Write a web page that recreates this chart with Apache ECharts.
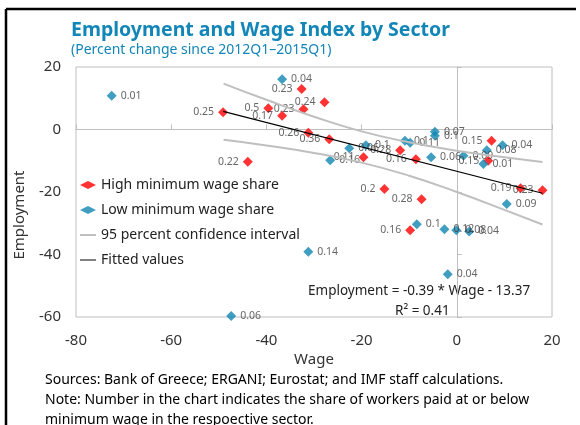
<!DOCTYPE html>
<html>
<head>
<meta charset="utf-8">
<script src="https://cdn.jsdelivr.net/npm/echarts@6/dist/echarts.min.js"></script>
<style>
    html, body { margin: 0; padding: 0; background: #fff; }
    #chart { width: 580px; height: 425px; }
</style>
</head>
<body>
<div id="chart"></div>
<script>
// [wage, employment, share of workers at/below minimum wage]
var highShare = [
    [-49.1, 5.5, '0.25'], [-43.9, -10.3, '0.22'], [-39.6, 6.8, '0.5'], [-36.7, 4.4, '0.17'],
    [-32.6, 13.0, '0.23'], [-32.2, 6.5, '0.23'], [-27.8, 8.7, '0.24'], [-31.2, -1.0, '0.26'],
    [-26.8, -3.1, '0.36'], [-19.6, -8.9, '0.11'], [-11.9, -6.6, '0.28'], [-8.6, -9.5, '0.16'],
    [-15.2, -19.0, '0.2'], [-7.4, -22.3, '0.28'], [-9.8, -32.2, '0.16'], [7.3, -3.6, '0.15'],
    [6.6, -10.0, '0.15'], [13.4, -18.8, '0.19'], [18.0, -19.4, '0.23']
];
var lowShare = [
    [-72.5, 10.8, '0.01'], [-36.7, 16.1, '0.04'], [-22.6, -6.0, '0.06'], [-19.1, -5.0, '0.1'],
    [-26.6, -9.8, '0.16'], [-10.9, -3.6, '0.1'], [-9.8, -4.2, '0.11'], [-4.6, -0.7, '0.07'],
    [-4.6, -2.0, '0.1'], [-5.4, -8.9, '0.06'], [1.4, -8.4, '0.09'], [6.3, -6.6, '0.08'],
    [9.6, -5.0, '0.04'], [5.6, -11.0, '0.01'], [10.5, -23.8, '0.09'], [-8.4, -30.3, '0.1'],
    [-2.6, -31.9, '0.12'], [-0.1, -32.2, '0.08'], [2.6, -32.6, '0.04'], [-31.2, -39.1, '0.14'],
    [-1.9, -46.3, '0.04'], [-47.4, -59.7, '0.06']
];
var ciUpper = [[-49, 14.7], [-40, 9.5], [-30, 4.1], [-20, -0.6], [-10, -4.1], [0, -6.8], [10, -8.9], [18, -10.4]];
var ciLower = [[-49, -3.3], [-40, -5.1], [-30, -7.5], [-20, -10.6], [-10, -14.8], [0, -20.0], [10, -25.7], [18, -30.4]];
var fitted = [[-49.1, 5.8], [18, -20.4]];

var xTicks = { min: -80, max: 20, interval: 20 };
var yTicks = { min: -60, max: 20, interval: 20 };

var FONT = '"Noto Sans", sans-serif';
var RED = '#ff0000';
var BLUE = '#1086b2';
var GREY = '#bfbfbf';

var chart = echarts.init(document.getElementById('chart'));

function labelOf(p) { return p.value[2]; }

chart.setOption({
    animation: false,
    textStyle: { fontFamily: FONT },
    title: {
        text: 'Employment and Wage Index by Sector',
        subtext: '(Percent change since 2012Q1\u20132015Q1)',
        left: 66,
        top: 15,
        itemGap: 3,
        textStyle: { fontFamily: FONT, fontSize: 19.5, fontWeight: 'bold', color: '#1386b8' },
        subtextStyle: { fontFamily: FONT, fontSize: 14, color: '#1386b8' }
    },
    legend: {
        orient: 'vertical',
        left: 80,
        top: 176,
        padding: 0,
        itemWidth: 16,
        itemHeight: 8,
        itemGap: 7,
        textStyle: { fontFamily: FONT, fontSize: 14, color: '#222', lineHeight: 18 },
        data: [
            { name: 'High minimum wage share', icon: 'diamond' },
            { name: 'Low minimum wage share', icon: 'diamond' },
            { name: '95 percent confidence interval', icon: 'path://M0,0 L16,0 L16,2 L0,2 Z' },
            { name: 'Fitted values', icon: 'path://M0,0 L16,0 L16,1 L0,1 Z' }
        ]
    },
    grid: {
        left: 76, right: 28, top: 67, bottom: 108,
        show: true, borderColor: GREY, borderWidth: 1, backgroundColor: 'transparent'
    },
    xAxis: [
        {
            type: 'value', min: xTicks.min, max: xTicks.max, interval: xTicks.interval,
            position: 'bottom',
            axisLine: { show: false, onZero: false },
            axisTick: { show: false },
            splitLine: { show: false },
            axisLabel: { fontSize: 15, color: '#333', margin: 16 }
        },
        {
            type: 'value', min: xTicks.min, max: xTicks.max, interval: xTicks.interval,
            position: 'bottom',
            axisLine: { show: true, onZero: true, lineStyle: { color: GREY, width: 1 } },
            axisTick: { show: true, inside: true, length: 5, lineStyle: { color: GREY } },
            splitLine: { show: false },
            axisLabel: { show: false }
        }
    ],
    yAxis: [
        {
            type: 'value', min: yTicks.min, max: yTicks.max, interval: yTicks.interval,
            position: 'left',
            axisLine: { show: false, onZero: false },
            axisTick: { show: false },
            splitLine: { show: false },
            axisLabel: { fontSize: 15, color: '#333', margin: 15 }
        },
        {
            type: 'value', min: yTicks.min, max: yTicks.max, interval: yTicks.interval,
            position: 'left',
            axisLine: { show: true, onZero: true, lineStyle: { color: GREY, width: 1 } },
            axisTick: { show: true, inside: true, length: 5, lineStyle: { color: GREY } },
            splitLine: { show: false },
            axisLabel: { show: false }
        }
    ],
    graphic: [
        { type: 'line', shape: { x1: 6, y1: 9, x2: 576, y2: 9 }, style: { stroke: '#000', lineWidth: 2.5 } },
        { type: 'line', shape: { x1: 6, y1: 9, x2: 6, y2: 425 }, style: { stroke: '#000', lineWidth: 2.5 } },
        {
            type: 'text', x: 20, y: 215, rotation: Math.PI / 2,
            style: { text: 'Employment', fontFamily: FONT, fontSize: 15, fill: '#333', align: 'center', verticalAlign: 'middle' }
        },
        {
            type: 'text', x: 314, y: 360,
            style: { text: 'Wage', fontFamily: FONT, fontSize: 15, fill: '#333', align: 'center', verticalAlign: 'middle' }
        },
        {
            type: 'text', x: 308, y: 291,
            style: { text: 'Employment = -0.39 * Wage - 13.37', fontFamily: FONT, fontSize: 13.5, fill: '#222', verticalAlign: 'middle' }
        },
        {
            type: 'text', x: 395, y: 311,
            style: { text: 'R\u00b2 = 0.41', fontFamily: FONT, fontSize: 13.5, fill: '#222', verticalAlign: 'middle' }
        },
        {
            type: 'text', x: 45, y: 380,
            style: { text: 'Sources: Bank of Greece; ERGANI; Eurostat; and IMF staff calculations.', fontFamily: FONT, fontSize: 14, fill: '#000', verticalAlign: 'middle' }
        },
        {
            type: 'text', x: 45, y: 400,
            style: { text: 'Note: Number in the chart indicates the share of workers paid at or below', fontFamily: FONT, fontSize: 14, fill: '#000', verticalAlign: 'middle' }
        },
        {
            type: 'text', x: 45, y: 420,
            style: { text: 'minimum wage in the respoective sector.', fontFamily: FONT, fontSize: 14, fill: '#000', verticalAlign: 'middle' }
        }
    ],
    series: [
        {
            name: '95 percent confidence interval',
            type: 'line', smooth: true, symbol: 'none',
            lineStyle: { color: GREY, width: 2 }, itemStyle: { color: GREY },
            data: ciUpper
        },
        {
            name: '95 percent confidence interval',
            type: 'line', smooth: true, symbol: 'none',
            lineStyle: { color: GREY, width: 2 }, itemStyle: { color: GREY },
            data: ciLower
        },
        {
            name: 'Fitted values',
            type: 'line', symbol: 'none',
            lineStyle: { color: '#000', width: 1.2 }, itemStyle: { color: '#000' },
            data: fitted
        },
        {
            name: 'High minimum wage share',
            type: 'scatter', symbol: 'diamond', symbolSize: 10,
            itemStyle: { color: RED },
            label: { show: true, position: 'left', distance: 4, fontSize: 10.5, color: '#404040', formatter: labelOf },
            data: highShare
        },
        {
            name: 'Low minimum wage share',
            type: 'scatter', symbol: 'diamond', symbolSize: 10,
            itemStyle: { color: BLUE },
            label: { show: true, position: 'right', distance: 4, fontSize: 10.5, color: '#404040', formatter: labelOf },
            data: lowShare
        }
    ]
});
</script>
</body>
</html>
